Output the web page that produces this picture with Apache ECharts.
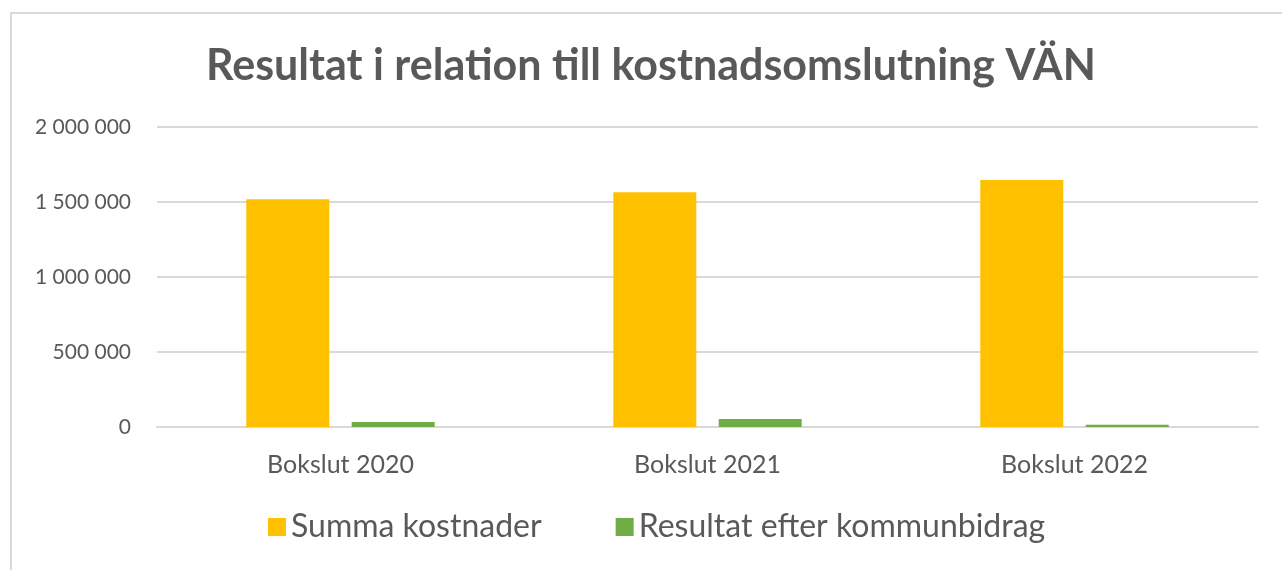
<!DOCTYPE html>
<html>
<head>
<meta charset="utf-8">
<script src="https://cdn.jsdelivr.net/npm/echarts@6/dist/echarts.min.js"></script>
<style>
    html, body { margin: 0; padding: 0; background: #fff; }
    #frame {
        position: absolute;
        left: 10px;
        top: 12px;
        width: 1290px;
        height: 580px;
        border: 2px solid #d9d9d9;
        box-sizing: border-box;
    }
    #chart {
        position: absolute;
        left: 0;
        top: 0;
        width: 1282px;
        height: 570px;
    }
</style>
</head>
<body>
<div id="frame"></div>
<div id="chart"></div>
<script>
const categories = ['Bokslut 2020', 'Bokslut 2021', 'Bokslut 2022']
const summaKostnader = [1518000, 1565000, 1647000]
const resultatEfterBidrag = [33000, 53000, 15000]
const seriesNames = ['Summa kostnader', 'Resultat efter kommunbidrag']

const font = 'Lato, "Open Sans", sans-serif'
const textColor = '#595959'

const fmt = v => String(v).replace(/\B(?=(\d{3})+(?!\d))/g, ' ')

const chart = echarts.init(document.getElementById('chart'))
chart.setOption({
    backgroundColor: 'transparent',
    animation: false,
    title: {
        text: 'Resultat i relation till kostnadsomslutning VÄN',
        left: 201,
        top: 40,
        textStyle: { color: textColor, fontSize: 43, fontWeight: 'bold', fontFamily: font }
    },
    legend: {
        bottom: 22,
        left: 263,
        itemWidth: 18,
        itemHeight: 18,
        itemGap: 74,
        icon: 'rect',
        textStyle: { color: textColor, fontSize: 32, fontFamily: font }
    },
    grid: { left: 157, right: 24, top: 127, bottom: 143 },
    xAxis: {
        type: 'category',
        data: categories,
        axisLine: { lineStyle: { color: '#d9d9d9', width: 2 } },
        axisTick: { show: false },
        axisLabel: { color: textColor, fontSize: 25, fontFamily: font, margin: 25 }
    },
    yAxis: {
        type: 'value',
        min: 0,
        max: 2000000,
        interval: 500000,
        axisLine: { show: false },
        axisTick: { show: false },
        splitLine: { lineStyle: { color: '#d9d9d9', width: 2 } },
        axisLabel: { color: textColor, fontSize: 21, fontFamily: font, margin: 26, formatter: fmt }
    },
    series: [
        {
            name: seriesNames[0],
            type: 'bar',
            data: summaKostnader,
            barWidth: 83,
            barGap: '27%',
            itemStyle: { color: '#ffc000' }
        },
        {
            name: seriesNames[1],
            type: 'bar',
            data: resultatEfterBidrag,
            barWidth: 83,
            itemStyle: { color: '#70ad47' }
        }
    ]
})
</script>
</body>
</html>
